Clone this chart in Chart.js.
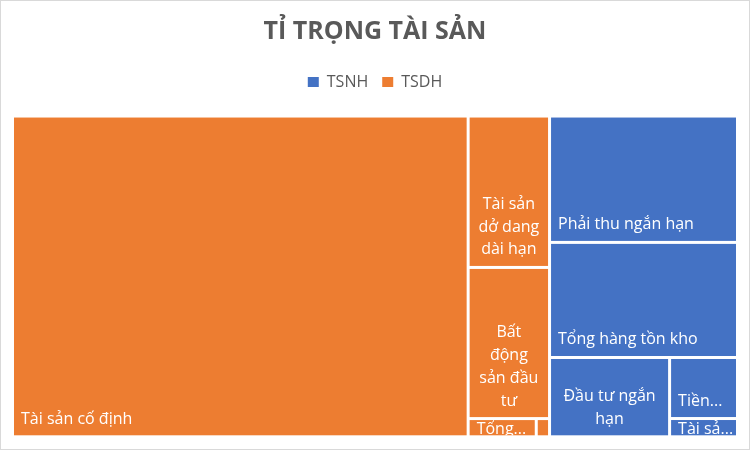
<!DOCTYPE html>
<html>
<head>
<meta charset="utf-8">
<script src="https://cdn.jsdelivr.net/npm/chart.js@4.4.0/dist/chart.umd.min.js"></script>
<style>
  html, body { margin: 0; padding: 0; background: #fff; }
  #wrap { width: 751px; height: 451px; }
</style>
</head>
<body>
<div id="wrap"><canvas id="tree" width="751" height="451"></canvas></div>
<script>
// ── Data (tỷ đồng, đọc ước lượng từ hình) ─────────────────────────────────
const groupNames  = ['TSNH', 'TSDH'];
const groupColors = ['#4472C4', '#ED7D31'];

const tsnhLabels = ['Phải thu ngắn hạn', 'Tổng hàng tồn kho', 'Đầu tư ngắn hạn', 'Tiền và tương đương tiền', 'Tài sản ngắn hạn khác'];
const tsnhValues = [235.5, 214.5, 94.4, 41.1, 12.3];

const tsdhLabels = ['Tài sản cố định', 'Tài sản dở dang dài hạn', 'Bất động sản đầu tư', 'Tổng phải thu dài hạn', 'Tài sản dài hạn khác'];
const tsdhValues = [1449.2, 122.2, 122.0, 12.3, 2.4];

const FONT = '"Open Sans", "DejaVu Sans", sans-serif';
const GAP  = 1.5;   // half of the white line between cells

// ── Squarified treemap layout ────────────────────────────────────────────
function worst(areas, side) {
  const s = areas.reduce((a, b) => a + b, 0);
  const mx = Math.max(...areas), mn = Math.min(...areas);
  return Math.max(side * side * mx / (s * s), (s * s) / (side * side * mn));
}

function squarify(items, rect) {
  const total = items.reduce((a, o) => a + o.value, 0);
  const k = rect.w * rect.h / total;
  let rest = items.slice().sort((a, b) => b.value - a.value).map(o => ({ ...o, area: o.value * k }));
  let r = { ...rect };
  const out = [];
  while (rest.length) {
    const side = Math.min(r.w, r.h);
    const row = [rest[0]];
    let i = 1;
    while (i < rest.length) {
      const cur = worst(row.map(o => o.area), side);
      const nxt = worst(row.concat(rest[i]).map(o => o.area), side);
      if (nxt > cur) break;
      row.push(rest[i]); i++;
    }
    rest = rest.slice(i);
    const s = row.reduce((a, o) => a + o.area, 0);
    if (r.w >= r.h) {
      const cw = s / r.h; let yy = r.y;
      row.forEach(o => { const hh = o.area / cw; out.push({ ...o, x: r.x, y: yy, w: cw, h: hh }); yy += hh; });
      r = { x: r.x + cw, y: r.y, w: r.w - cw, h: r.h };
    } else {
      const rh = s / r.w; let xx = r.x;
      row.forEach(o => { const ww = o.area / rh; out.push({ ...o, x: xx, y: r.y, w: ww, h: rh }); xx += ww; });
      r = { x: r.x, y: r.y + rh, w: r.w, h: r.h - rh };
    }
  }
  return out;
}

// ── Label helpers ────────────────────────────────────────────────────────
function wrapWords(ctx, text, maxW) {
  const words = text.split(' ');
  const lines = [];
  let line = '';
  words.forEach(w => {
    const test = line ? line + ' ' + w : w;
    if (ctx.measureText(test).width > maxW && line) { lines.push(line); line = w; }
    else line = test;
  });
  if (line) lines.push(line);
  return lines;
}

function truncate(ctx, text, maxW) {
  if (ctx.measureText(text).width <= maxW) return text;
  let t = text;
  while (t.length > 1 && ctx.measureText(t.trimEnd() + '...').width > maxW) t = t.slice(0, -1);
  if (ctx.measureText(t.trimEnd() + '...').width > maxW) return '';
  // don't leave a lone letter of the next word
  if (/ \S$/.test(t)) t = t.slice(0, -2);
  return t.trimEnd() + '...';
}

function drawLabel(ctx, text, c) {
  const pad = 7, lh = 22.7;
  const maxW = c.w - 2 * pad;
  if (maxW < 14) return;
  ctx.save();
  ctx.beginPath();
  ctx.rect(c.x, c.y, c.w, c.h);
  ctx.clip();
  ctx.font = '16px ' + FONT;
  ctx.fillStyle = '#ffffff';
  ctx.textBaseline = 'alphabetic';
  let lines = wrapWords(ctx, text, maxW);
  let align = 'left';
  if (lines.length > 1) {
    if (lines.length * lh <= c.h - 8 && lines.every(l => ctx.measureText(l).width <= maxW)) align = 'center';
    else lines = [truncate(ctx, text, maxW + 7)];
  } else if (ctx.measureText(lines[0]).width > maxW) {
    lines = [truncate(ctx, text, maxW + 7)];
  }
  const lastBase = Math.max(c.y + c.h - 11.5, c.y + 14);
  lines.forEach((l, i) => {
    const yy = lastBase - (lines.length - 1 - i) * lh;
    if (align === 'center') { ctx.textAlign = 'center'; ctx.fillText(l, c.x + c.w / 2, yy); }
    else { ctx.textAlign = 'left'; ctx.fillText(l, c.x + pad, yy); }
  });
  ctx.restore();
}

// ── Treemap plugin: lays cells out on the chart's own x/y scales ─────────
const treemapPlugin = {
  id: 'treemap',
  beforeDraw(chart) {
    const ctx = chart.ctx;
    ctx.save();
    ctx.strokeStyle = '#D9D9D9';
    ctx.lineWidth = 1;
    ctx.strokeRect(0.5, 0.5, 749, 449);
    ctx.restore();
  },
  afterDatasetsDraw(chart) {
    const { ctx, scales: { x, y } } = chart;
    // treemap occupies x 0..100 and y 0..100; the y scale leaves room under the legend
    const left = x.getPixelForValue(0), right = x.getPixelForValue(100);
    const top = y.getPixelForValue(100), bottom = y.getPixelForValue(0);

    const groups = [
      { name: groupNames[0], color: groupColors[0], labels: tsnhLabels, values: tsnhValues },
      { name: groupNames[1], color: groupColors[1], labels: tsdhLabels, values: tsdhValues },
    ].map(g => ({ ...g, value: g.values.reduce((a, b) => a + b, 0) }));

    const parents = squarify(groups, { x: left, y: top, w: right - left, h: bottom - top });
    parents.forEach(p => {
      const kids = squarify(p.labels.map((l, i) => ({ label: l, value: p.values[i] })),
                            { x: p.x, y: p.y, w: p.w, h: p.h });
      kids.forEach(k => {
        const c = { x: k.x + GAP, y: k.y + GAP, w: k.w - 2 * GAP, h: k.h - 2 * GAP };
        if (c.w <= 0 || c.h <= 0) return;
        ctx.fillStyle = p.color;
        ctx.fillRect(c.x, c.y, c.w, c.h);
        drawLabel(ctx, k.label, c);
      });
    });
  },
};

new Chart(document.getElementById('tree'), {
  type: 'scatter',
  data: {
    datasets: groupNames.map((n, i) => ({
      label: n,
      data: [],
      backgroundColor: groupColors[i],
      borderColor: groupColors[i],
      borderWidth: 0,
    })),
  },
  options: {
    responsive: false,
    animation: false,
    events: [],
    layout: { padding: { left: 12.5, right: 13.5, top: 8, bottom: 14.2 } },
    scales: {
      x: { type: 'linear', min: 0, max: 100, display: false },
      y: { type: 'linear', min: 0, max: 105, display: false },
    },
    plugins: {
      title: {
        display: true,
        text: 'TỈ TRỌNG TÀI SẢN',
        color: '#595959',
        font: { family: FONT, size: 25, weight: 'bold' },
        padding: { top: 9, bottom: 13 },
      },
      legend: {
        display: true,
        position: 'top',
        labels: {
          color: '#595959',
          font: { family: FONT, size: 16 },
          boxWidth: 11,
          boxHeight: 10,
          padding: 14,
        },
      },
      tooltip: { enabled: false },
    },
  },
  plugins: [treemapPlugin],
});
</script>
</body>
</html>
